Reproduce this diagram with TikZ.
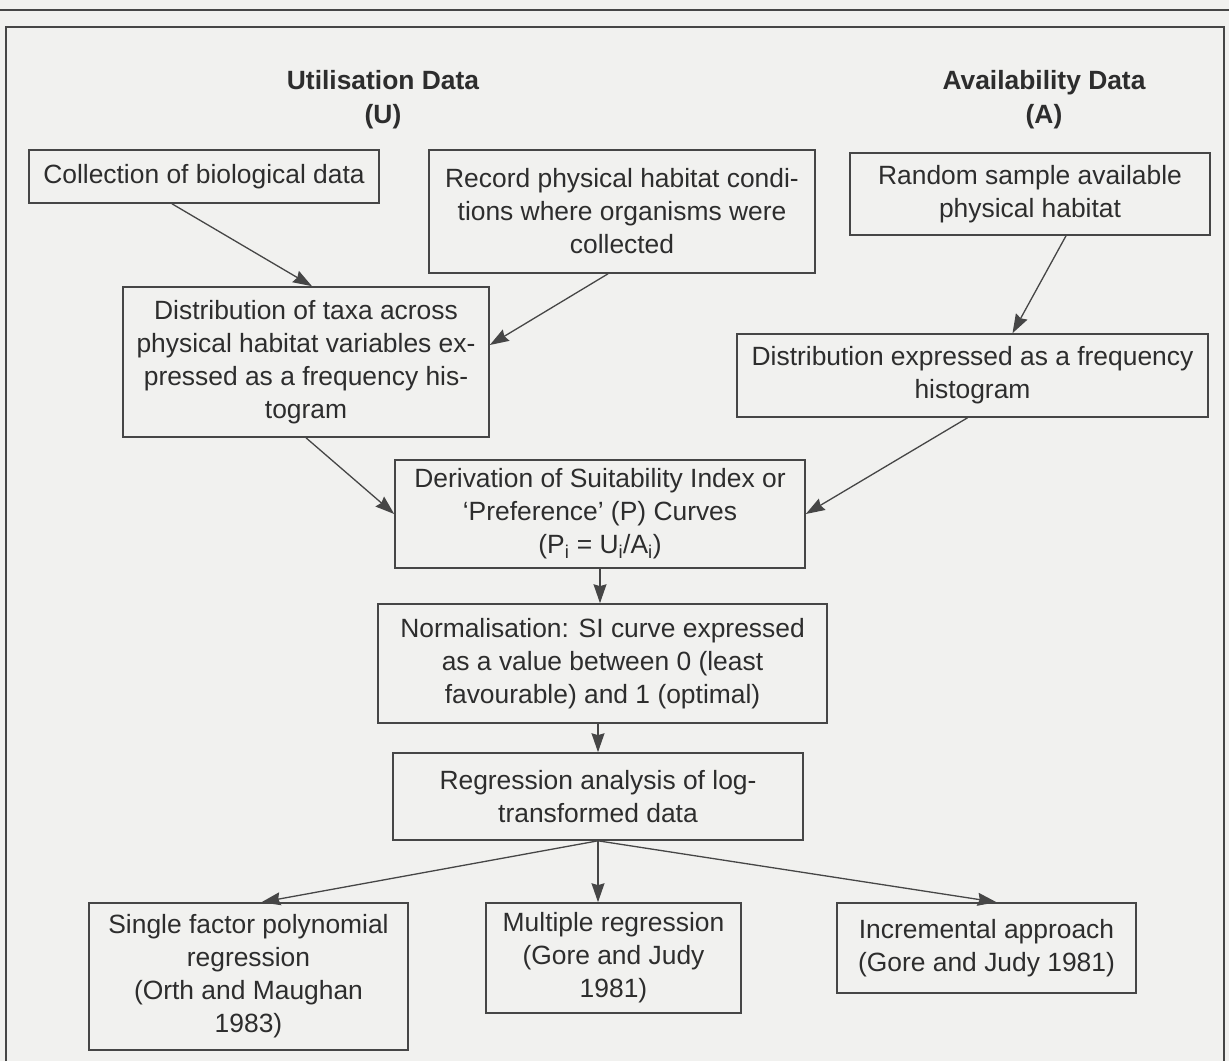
\documentclass[tikz,border=0pt]{standalone}
\usepackage{fontspec}
\usepackage{xcolor}
\usepackage{tikz}
\usetikzlibrary{arrows.meta}
\setmainfont{Liberation Sans}

\definecolor{paper}{RGB}{241,241,239}
\definecolor{ink}{RGB}{45,45,45}
\definecolor{rule}{RGB}{70,70,70}

\tikzset{
  procbox/.style={draw=rule, line width=1.6pt, align=center, inner sep=0pt, text=ink,
    font=\fontsize{26.4}{33}\selectfont},
  heading/.style={align=center, inner sep=0pt, text=ink,
    font=\fontsize{26.4}{34}\selectfont\bfseries},
  flow/.style={draw=rule, line width=1.3pt, -{Stealth[length=19pt,width=13pt,inset=2pt]}}
}

\begin{document}
\begin{tikzpicture}[x=1pt,y=-1pt]

\fill[paper] (0,0) rectangle (1229,1061);
\useasboundingbox (0,0) rectangle (1229,1061);
\draw[rule, line width=1.6pt] (0,10) -- (1229,10);
\draw[rule, line width=1.6pt] (6,1061) -- (6,27) -- (1224,27) -- (1224,1061);

\node[heading] (utit) at (383,100) {Utilisation Data\\(U)};
\node[heading] (atit) at (1044,100) {Availability Data\\(A)};

\node[procbox, minimum width=350pt, minimum height=53pt] (coll) at (204,176.5) {Collection of biological data};
\node[procbox, minimum width=386pt, minimum height=123pt] (rec) at (622,211.5) {Record physical habitat condi-\\tions where organisms were\\collected};
\node[procbox, minimum width=360pt, minimum height=82pt] (rand) at (1030,194) {Random sample available\\physical habitat};
\node[procbox, minimum width=366pt, minimum height=150pt] (taxa) at (306,362) {Distribution of taxa across\\physical habitat variables ex-\\pressed as a frequency his-\\togram};
\node[procbox, minimum width=471pt, minimum height=83pt] (dexp) at (972.5,375.5) {Distribution expressed as a frequency\\histogram};
\node[procbox, minimum width=410pt, minimum height=108pt] (deriv) at (600,514) {Derivation of Suitability Index or\\`Preference' (P) Curves\\(P\textsubscript{i} = U\textsubscript{i}/A\textsubscript{i})};
\node[procbox, minimum width=449pt, minimum height=119pt] (norm) at (602.5,663.5) {Normalisation: SI curve expressed\\as a value between 0 (least\\favourable) and 1 (optimal)};
\node[procbox, minimum width=410pt, minimum height=87pt] (regr) at (598,796.5) {Regression analysis of log-\\transformed data};
\node[procbox, minimum width=319pt, minimum height=147pt] (single) at (248.5,976.5) {Single factor polynomial\\regression\\(Orth and Maughan\\1983)};
\node[procbox, minimum width=255pt, minimum height=110pt] (multi) at (613.5,958) {Multiple regression\\(Gore and Judy\\1981)};
\node[procbox, minimum width=299pt, minimum height=90pt] (incr) at (986.5,948) {Incremental approach\\(Gore and Judy 1981)};

\draw[flow] ([xshift=-32pt]coll.south) -- ([xshift=6pt]taxa.north);
\draw[flow] ([xshift=-14pt]rec.south) -- ([yshift=17pt]taxa.east);
\draw[flow] ([xshift=36pt]rand.south) -- ([xshift=40pt]dexp.north);
\draw[flow] (taxa.south) -- (deriv.west);
\draw[flow] ([xshift=-5pt]dexp.south) -- (deriv.east);
\draw[flow] (deriv.south) -- (deriv.south |- norm.north);
\draw[flow] (regr.north |- norm.south) -- (regr.north);
\draw[flow] (regr.south) -- ([xshift=13pt]single.north);
\draw[flow] (regr.south) -- (regr.south |- multi.north);
\draw[flow] (regr.south) -- ([xshift=10pt]incr.north);

\end{tikzpicture}
\end{document}
